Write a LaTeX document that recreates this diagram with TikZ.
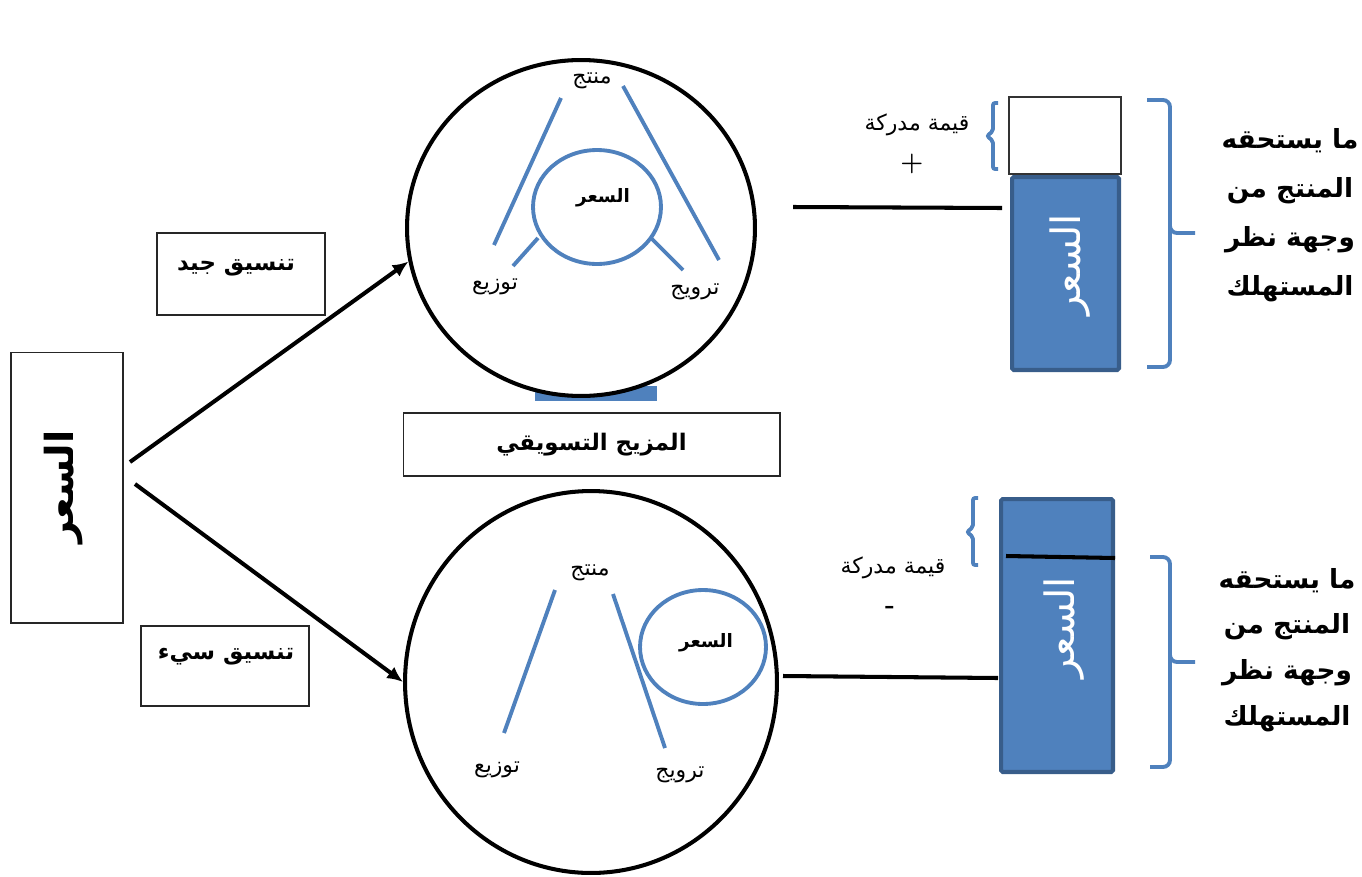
\documentclass[tikz,border=0pt]{standalone}
\usepackage{fontspec}
\usetikzlibrary{shapes.geometric,arrows.meta,calc}
\TeXXeTstate=1
\newfontfamily\arabicfont[Script=Arabic]{DejaVu Sans}
\newcommand{\arb}[1]{{\arabicfont\beginR #1\endR}}
\definecolor{ofblue}{HTML}{4F81BD}
\definecolor{ofdark}{HTML}{385D8A}
\tikzset{
  thick line/.style={line width=2.3pt, black},
  blueline/.style={line width=2.2pt, ofblue},
  bigcirc/.style={ellipse, draw=black, line width=2.3pt, fill=white, inner sep=0pt},
  pricecirc/.style={ellipse, draw=ofblue, line width=2.2pt, inner sep=0pt},
  lab/.style={font=\fontsize{12.5}{14}\selectfont, inner sep=0pt},
  smallbold/.style={font=\fontsize{10.5}{12}\selectfont\bfseries, inner sep=0pt},
  textbox/.style={draw=black!85, line width=0.6pt, inner sep=0pt, font=\fontsize{13}{15}\selectfont\bfseries},
  bluebar/.style={draw=ofdark, fill=ofblue, line width=2.3pt, rounded corners=1pt, inner sep=0pt},
  brace/.style={ofblue, line width=2.2pt, rounded corners=4pt},
  smallbrace/.style={ofblue, line width=2.2pt, rounded corners=1.2pt},
  sidetext/.style={font=\fontsize{15}{28}\selectfont\bfseries, align=center, inner sep=0pt},
  arrowline/.style={line width=2.3pt, -{Latex[length=9pt,width=8pt]}}
}
\begin{document}
\begin{tikzpicture}[x=0.02cm,y=-0.02cm]
\useasboundingbox (0,0) rectangle (1362,876);

% left box
\node[draw=black!85, line width=0.6pt, minimum width=2.24cm, minimum height=5.42cm, inner sep=0pt] (lbox) at (67,487.5) {};
\node[rotate=90, font=\fontsize{22}{26}\selectfont\bfseries, inner sep=0pt] (ltext) at (64,487) {\arb{السعر}};

% label boxes
\node[textbox, minimum width=3.36cm, minimum height=1.64cm] (good) at (241,274) {};
\node[font=\fontsize{13}{15}\selectfont\bfseries, inner sep=0pt] (goodt) at (236,268) {\arb{تنسيق جيد}};
\node[textbox, minimum width=3.36cm, minimum height=1.6cm] (bad) at (225,666) {};
\node[font=\fontsize{13}{15}\selectfont\bfseries, inner sep=0pt] (badt) at (226,657) {\arb{تنسيق سيء}};
\node[textbox, minimum width=7.54cm, minimum height=1.26cm] (mix) at (591.5,444.5) {\arb{المزيج التسويقي}};

% blue artifact under top circle
\fill[ofblue] (535,386) rectangle (657,401);

% big circles
\node[bigcirc, minimum width=6.96cm, minimum height=6.72cm] (c1) at (581,228) {};
\node[bigcirc, minimum width=7.44cm, minimum height=7.64cm] (c2) at (591,682) {};

% arrows
\coordinate (s1) at (130,462);
\coordinate (s2) at (135,484);
\draw[arrowline] (s1) -- (c1.191);
\draw[arrowline] (s2) -- (c2.180);

% top circle content
\node[lab] (t1) at (592,81) {\arb{منتج}};
\node[lab] (t2) at (495,287) {\arb{توزيع}};
\node[lab] (t3) at (695,292) {\arb{ترويج}};
\node[pricecirc, minimum width=2.56cm, minimum height=2.28cm] (p1) at (597,207) {};
\node[smallbold] (p1t) at (603,198) {\arb{السعر}};
\draw[blueline] (561,98) -- (494,245);
\draw[blueline] (623,86) -- (719,260);
\draw[blueline] (538,238) -- (513,266);
\draw[blueline] (651,238) -- (683,270);

% bottom circle content
\node[lab] (b1) at (590,573) {\arb{منتج}};
\node[lab] (b2) at (497,770) {\arb{توزيع}};
\node[lab] (b3) at (680,775) {\arb{ترويج}};
\draw[blueline] (555,590) -- (504,733);
\draw[blueline] (613,594) -- (665,748);
\node[pricecirc, minimum width=2.52cm, minimum height=2.28cm] (p2) at (703,647) {};
\node[smallbold] (p2t) at (706,643) {\arb{السعر}};

% top right
\coordinate (h1a) at (793,207);
\coordinate (h1b) at (1002,208);
\draw[thick line] (h1a) -- (h1b);
\node[draw=black!80, line width=0.6pt, minimum width=2.24cm, minimum height=1.54cm, inner sep=0pt] (w1) at (1065,135.5) {};
\node[bluebar, minimum width=2.14cm, minimum height=3.86cm] (r1) at (1065.5,273.5) {};
\node[rotate=90, text=white, font=\fontsize{23}{28}\selectfont, inner sep=0pt] (r1t) at (1070,265) {\arb{السعر}};
\node[lab] (q1) at (917,125) {\arb{قيمة مدركة}};
\node[font=\fontsize{15}{17}\selectfont\bfseries, inner sep=0pt] (q1s) at (912,164) {+};
\draw[smallbrace] (998,103) -- (993,103) -- (993,131) -- (987,136) -- (993,141) -- (993,169) -- (998,169);
\draw[brace] (1147,100) -- (1170,100) -- (1170,233) -- (1195,233);
\draw[brace] (1170,226) -- (1170,367) -- (1147,367);
\node[sidetext] (m1) at (1290,215) {\arb{ما يستحقه}\\\arb{المنتج من}\\\arb{وجهة نظر}\\\arb{المستهلك}};

% bottom right
\coordinate (h2a) at (783,676);
\coordinate (h2b) at (998,678);
\draw[thick line] (h2a) -- (h2b);
\node[bluebar, minimum width=2.24cm, minimum height=5.46cm] (r2) at (1057,635.5) {};
\coordinate (k1) at (1006,556);
\coordinate (k2) at (1115,558);
\draw[thick line] (k1) -- (k2);
\node[rotate=90, text=white, font=\fontsize{23}{28}\selectfont, inner sep=0pt] (r2t) at (1064,628) {\arb{السعر}};
\node[lab] (q2) at (893,568) {\arb{قيمة مدركة}};
\node[font=\fontsize{15}{17}\selectfont\bfseries, inner sep=0pt] (q2s) at (890,610) {-};
\draw[smallbrace] (978,498) -- (973,498) -- (973,527) -- (967,532) -- (973,537) -- (973,565) -- (978,565);
\draw[brace] (1150,557) -- (1170,557) -- (1170,662) -- (1195,662);
\draw[brace] (1170,655) -- (1170,767) -- (1150,767);
\node[sidetext, font=\fontsize{15}{26}\selectfont\bfseries] (m2) at (1287,650) {\arb{ما يستحقه}\\\arb{المنتج من}\\\arb{وجهة نظر}\\\arb{المستهلك}};
\end{tikzpicture}
\end{document}
